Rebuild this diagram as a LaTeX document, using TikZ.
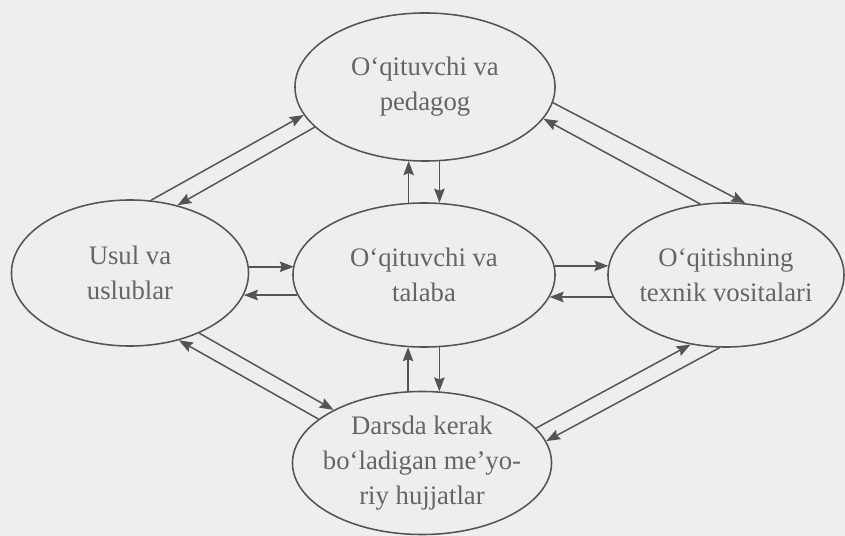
\documentclass[tikz,border=0pt]{standalone}
\usepackage{fontspec}
\setmainfont{Liberation Serif}
\usetikzlibrary{shapes.geometric, arrows.meta}

\definecolor{scan}{RGB}{238,238,236}
\definecolor{ink}{RGB}{84,84,84}

\begin{document}
\begin{tikzpicture}[x=0.025cm, y=-0.025cm,
	oval/.style={ellipse, draw=ink, line width=1.1pt, inner sep=0pt},
	txt/.style={align=center, text=ink!90, font=\fontsize{19}{25}\selectfont},
	link/.style={draw=ink, line width=1.05pt, -{Stealth[length=10pt, width=7.5pt, inset=1.5pt]}}]

	\fill[scan] (0,0) rectangle (845,536);
	\useasboundingbox (0,0) rectangle (845,536);

	% the five ovals
	\node[oval, minimum width=6.5cm, minimum height=3.7cm,
		label={[txt]center:O‘qituvchi va\\pedagog}] (pedagog) at (425,87) {};
	\node[oval, minimum width=5.925cm, minimum height=3.65cm,
		label={[txt]center:Usul va\\uslublar}] (usul) at (130,273) {};
	\node[oval, minimum width=6.55cm, minimum height=3.6cm,
		label={[txt]center:O‘qituvchi va\\talaba}] (talaba) at (424,275) {};
	\node[oval, minimum width=5.9cm, minimum height=3.6cm,
		label={[txt]center:O‘qitishning\\texnik vositalari}] (vosita) at (726,275) {};
	\node[oval, minimum width=6.475cm, minimum height=3.575cm,
		label={[txt]center:Darsda kerak\\bo‘ladigan me’yo-\\riy hujjatlar}] (hujjat) at (422,463) {};

	% usul <-> talaba
	\draw[link] (usul.3.9) -- (talaba.175.6 |- usul.3.9);
	\draw[link] (talaba.189.5) -- (usul.-11.6 |- talaba.189.5);
	% talaba <-> vosita
	\draw[link] (talaba.4) -- (vosita.175.6 |- talaba.4);
	\draw[link] (vosita.191.1) -- (talaba.-10 |- vosita.191.1);
	% pedagog <-> talaba
	\draw[link] (talaba.102.6) -- (talaba.102.6 |- pedagog.257);
	\draw[link] (pedagog.-79.2) -- (pedagog.-79.2 |- talaba.78.2);
	% talaba <-> hujjat
	\draw[link] (hujjat.101.1) -- (hujjat.101.1 |- talaba.257.4);
	\draw[link] (talaba.-78.2) -- (talaba.-78.2 |- hujjat.76.6);
	% usul <-> pedagog
	\draw[link] (usul.74.5) -- (pedagog.193.1);
	\draw[link] (pedagog.200.8) -- (usul.55.2);
	% pedagog <-> vosita
	\draw[link] (pedagog.-7.2) -- (vosita.75.6);
	\draw[link] (vosita.110.3) -- (pedagog.-15.8);
	% usul <-> hujjat
	\draw[link] (usul.-41.3) -- (hujjat.149.1);
	\draw[link] (hujjat.157.5) -- (usul.-54.6);
	% hujjat <-> vosita
	\draw[link] (hujjat.17.8) -- (vosita.243.7);
	\draw[link] (vosita.265.2) -- (hujjat.10.9);

\end{tikzpicture}
\end{document}
